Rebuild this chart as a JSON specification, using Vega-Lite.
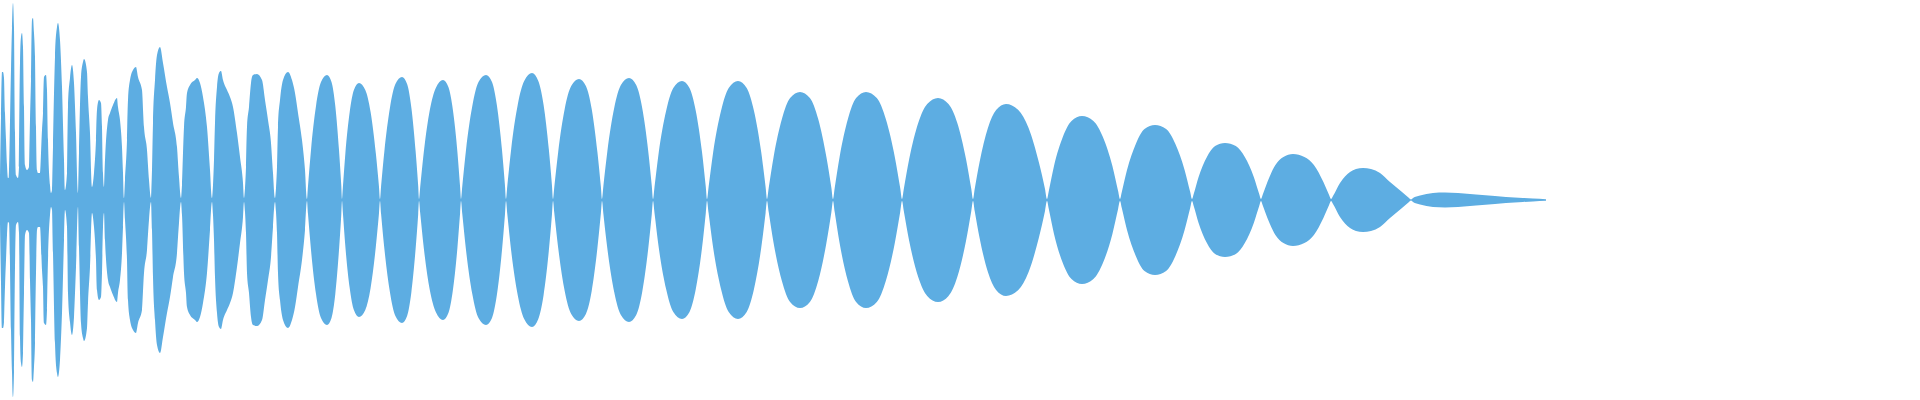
{
  "$schema": "https://vega.github.io/schema/vega-lite/v6.json",
  "width": 1920,
  "height": 400,
  "autosize": {"type": "fit", "contains": "padding"},
  "padding": 0,
  "background": "white",
  "config": {"view": {"stroke": null}},
  "data": {"values": [
    {"t":0,"amp":23},{"t":1,"amp":83},{"t":2,"amp":128},{"t":3,"amp":128},{"t":4,"amp":122},{"t":5,"amp":87},{"t":6,"amp":60},{"t":7,"amp":35},{"t":8,"amp":22},
    {"t":9,"amp":23},{"t":11,"amp":130},{"t":12,"amp":172},{"t":13,"amp":197},{"t":14,"amp":172},{"t":15,"amp":67},{"t":16,"amp":25},{"t":18,"amp":22},
    {"t":19,"amp":33},{"t":20,"amp":137},{"t":21,"amp":163},{"t":22,"amp":167},{"t":23,"amp":153},{"t":24,"amp":93},{"t":25,"amp":35},{"t":27,"amp":30},
    {"t":29,"amp":33},{"t":30,"amp":80},{"t":31,"amp":120},{"t":32,"amp":180},{"t":33,"amp":182},{"t":34,"amp":167},{"t":35,"amp":143},{"t":36,"amp":73},{"t":37,"amp":30},{"t":38,"amp":27},
    {"t":40,"amp":27},{"t":42,"amp":70},{"t":43,"amp":87},{"t":44,"amp":123},{"t":46,"amp":125},{"t":47,"amp":110},{"t":48,"amp":60},{"t":50,"amp":15},{"t":51,"amp":7},
    {"t":52,"amp":10},{"t":53,"amp":53},{"t":55,"amp":143},{"t":57,"amp":173},{"t":58,"amp":177},{"t":60,"amp":160},{"t":62,"amp":113},{"t":64,"amp":40},{"t":65,"amp":10},
    {"t":67,"amp":27},{"t":68,"amp":93},{"t":70,"amp":122},{"t":72,"amp":135},{"t":74,"amp":117},{"t":76,"amp":67},{"t":78,"amp":7},
    {"t":79,"amp":47},{"t":81,"amp":123},{"t":83,"amp":138},{"t":84,"amp":141},{"t":87,"amp":128},{"t":88,"amp":103},{"t":90,"amp":67},{"t":92,"amp":13},
    {"t":94,"amp":27},{"t":96,"amp":60},{"t":97,"amp":90},{"t":99,"amp":100},{"t":101,"amp":97},{"t":102,"amp":73},{"t":103,"amp":27},{"t":104,"amp":13},
    {"t":105,"amp":40},{"t":108,"amp":80},{"t":110,"amp":87},{"t":113,"amp":95},{"t":117,"amp":102},{"t":118,"amp":93},{"t":120,"amp":80},{"t":122,"amp":53},{"t":123,"amp":27},{"t":124,"amp":2},
    {"t":125,"amp":20},{"t":127,"amp":60},{"t":128,"amp":100},{"t":130,"amp":120},{"t":133,"amp":130},{"t":136,"amp":133},{"t":138,"amp":123},{"t":142,"amp":110},{"t":144,"amp":73},{"t":147,"amp":50},{"t":149,"amp":20},{"t":151,"amp":2},
    {"t":152,"amp":30},{"t":153,"amp":77},{"t":155,"amp":120},{"t":157,"amp":145},{"t":160,"amp":153},{"t":163,"amp":137},{"t":167,"amp":113},{"t":170,"amp":97},{"t":173,"amp":77},{"t":177,"amp":53},{"t":179,"amp":23},{"t":181,"amp":2},
    {"t":182,"amp":15},{"t":184,"amp":73},{"t":186,"amp":93},{"t":187,"amp":107},{"t":190,"amp":115},{"t":195,"amp":120},{"t":197,"amp":122},{"t":200,"amp":117},{"t":203,"amp":103},{"t":207,"amp":73},{"t":210,"amp":30},{"t":212,"amp":2},
    {"t":213,"amp":15},{"t":214,"amp":40},{"t":215,"amp":77},{"t":217,"amp":113},{"t":219,"amp":127},{"t":221,"amp":129},{"t":223,"amp":120},{"t":227,"amp":110},{"t":230,"amp":103},{"t":233,"amp":93},{"t":237,"amp":67},{"t":240,"amp":43},{"t":243,"amp":17},{"t":244,"amp":2},
    {"t":245,"amp":12},{"t":246,"amp":33},{"t":247,"amp":73},{"t":249,"amp":93},{"t":251,"amp":117},{"t":253,"amp":125},{"t":257,"amp":126},{"t":262,"amp":120},{"t":265,"amp":100},{"t":268,"amp":80},{"t":271,"amp":57},{"t":273,"amp":27},{"t":275,"amp":2},
    {"t":276,"amp":12},{"t":277,"amp":33},{"t":278,"amp":73},{"t":280,"amp":100},{"t":283,"amp":120},{"t":288,"amp":128},{"t":292,"amp":120},{"t":295,"amp":107},{"t":298,"amp":87},{"t":302,"amp":60},{"t":305,"amp":30},{"t":307,"amp":1},
    {"t":308,"amp":14},{"t":311,"amp":50},{"t":316,"amp":94},{"t":321,"amp":118},{"t":327,"amp":125},{"t":331.5,"amp":118},{"t":335.3,"amp":94},{"t":339,"amp":50},{"t":341.3,"amp":14},{"t":342,"amp":1},
    {"t":342.9,"amp":13},{"t":345.4,"amp":47},{"t":349.7,"amp":88},{"t":353.9,"amp":110},{"t":359,"amp":117},{"t":365.3,"amp":110},{"t":370.6,"amp":88},{"t":375.8,"amp":47},{"t":379,"amp":13},{"t":380,"amp":1},
    {"t":381.1,"amp":14},{"t":384.4,"amp":49},{"t":389.9,"amp":92},{"t":395.4,"amp":116},{"t":402,"amp":123},{"t":407.1,"amp":116},{"t":411.4,"amp":92},{"t":415.6,"amp":49},{"t":418.2,"amp":14},{"t":419,"amp":1},
    {"t":420.2,"amp":13},{"t":423.8,"amp":48},{"t":429.8,"amp":90},{"t":435.8,"amp":112},{"t":443,"amp":120},{"t":448.4,"amp":113},{"t":452.9,"amp":90},{"t":457.4,"amp":48},{"t":460.1,"amp":13},{"t":461,"amp":1},
    {"t":462.3,"amp":14},{"t":466,"amp":50},{"t":472.3,"amp":94},{"t":478.5,"amp":118},{"t":486,"amp":125},{"t":492,"amp":118},{"t":497,"amp":94},{"t":502,"amp":50},{"t":505,"amp":14},{"t":506,"amp":1},
    {"t":507.3,"amp":14},{"t":511.2,"amp":51},{"t":517.7,"amp":95},{"t":524.2,"amp":119},{"t":532,"amp":127},{"t":538.3,"amp":119},{"t":543.6,"amp":95},{"t":548.8,"amp":51},{"t":552,"amp":14},{"t":553,"amp":1},
    {"t":554.3,"amp":13},{"t":558.2,"amp":48},{"t":564.7,"amp":91},{"t":571.2,"amp":114},{"t":579,"amp":121},{"t":585.9,"amp":114},{"t":591.7,"amp":91},{"t":597.4,"amp":48},{"t":600.9,"amp":13},{"t":602,"amp":1},
    {"t":603.4,"amp":14},{"t":607.4,"amp":49},{"t":614.2,"amp":92},{"t":620.9,"amp":115},{"t":629,"amp":122},{"t":636.2,"amp":115},{"t":642.2,"amp":92},{"t":648.2,"amp":49},{"t":651.8,"amp":14},{"t":653,"amp":1},
    {"t":654.5,"amp":13},{"t":658.8,"amp":48},{"t":666.1,"amp":89},{"t":673.3,"amp":112},{"t":682,"amp":119},{"t":689.5,"amp":112},{"t":695.8,"amp":89},{"t":702,"amp":48},{"t":705.8,"amp":13},{"t":707,"amp":1},
    {"t":708.6,"amp":13},{"t":713.2,"amp":48},{"t":721,"amp":89},{"t":728.7,"amp":112},{"t":738,"amp":119},{"t":746.7,"amp":112},{"t":754,"amp":89},{"t":761.2,"amp":48},{"t":765.6,"amp":13},{"t":767,"amp":1},
    {"t":768.7,"amp":12},{"t":773.6,"amp":43},{"t":781.9,"amp":81},{"t":790.1,"amp":102},{"t":800,"amp":108},{"t":809.9,"amp":102},{"t":818.2,"amp":81},{"t":826.4,"amp":43},{"t":831.4,"amp":12},{"t":833,"amp":1},
    {"t":834.7,"amp":12},{"t":839.6,"amp":43},{"t":847.9,"amp":81},{"t":856.1,"amp":102},{"t":866,"amp":108},{"t":876.8,"amp":102},{"t":885.8,"amp":81},{"t":894.8,"amp":43},{"t":900.2,"amp":12},{"t":902,"amp":1},
    {"t":903.8,"amp":11},{"t":909.2,"amp":41},{"t":918.2,"amp":77},{"t":927.2,"amp":96},{"t":938,"amp":102},{"t":948.5,"amp":96},{"t":957.3,"amp":77},{"t":966,"amp":41},{"t":971.3,"amp":11},{"t":973,"amp":1},
    {"t":974.7,"amp":11},{"t":979.6,"amp":38},{"t":987.9,"amp":72},{"t":996.1,"amp":90},{"t":1006,"amp":96},{"t":1018.3,"amp":90},{"t":1028.6,"amp":72},{"t":1038.8,"amp":38},{"t":1045,"amp":11},{"t":1047,"amp":1},
    {"t":1048.8,"amp":9},{"t":1054,"amp":34},{"t":1062.8,"amp":63},{"t":1071.5,"amp":79},{"t":1082,"amp":84},{"t":1093.4,"amp":79},{"t":1102.9,"amp":63},{"t":1112.4,"amp":34},{"t":1118.1,"amp":9},{"t":1120,"amp":1},
    {"t":1121.8,"amp":8},{"t":1127,"amp":30},{"t":1135.8,"amp":56},{"t":1144.5,"amp":71},{"t":1155,"amp":75},{"t":1166.1,"amp":71},{"t":1175.4,"amp":56},{"t":1184.6,"amp":30},{"t":1190.2,"amp":8},{"t":1192,"amp":1},
    {"t":1193.7,"amp":6},{"t":1198.6,"amp":23},{"t":1206.9,"amp":43},{"t":1215.1,"amp":54},{"t":1225,"amp":57},{"t":1235.8,"amp":54},{"t":1244.8,"amp":43},{"t":1253.8,"amp":23},{"t":1259.2,"amp":6},{"t":1261,"amp":1},
    {"t":1262.6,"amp":5},{"t":1267.4,"amp":18},{"t":1275.4,"amp":35},{"t":1283.4,"amp":43},{"t":1293,"amp":46},{"t":1304.4,"amp":43},{"t":1313.9,"amp":35},{"t":1323.4,"amp":18},{"t":1329.1,"amp":5},{"t":1331,"amp":1},
    {"t":1333,"amp":4},{"t":1340,"amp":17},{"t":1350,"amp":28},{"t":1356,"amp":31},{"t":1363,"amp":32},{"t":1371,"amp":31},{"t":1380,"amp":27},{"t":1390,"amp":18},{"t":1402,"amp":8},{"t":1409,"amp":2},{"t":1411,"amp":0.5},
    {"t":1413,"amp":2},{"t":1420,"amp":4.5},{"t":1433,"amp":7},{"t":1445,"amp":7.5},{"t":1458,"amp":7},{"t":1476,"amp":5.5},{"t":1495,"amp":4},{"t":1506,"amp":3},{"t":1523,"amp":2},{"t":1533,"amp":1.5},{"t":1546,"amp":0.8}
  ]},
  "encoding": {
    "x": {"field": "t", "type": "quantitative", "scale": {"domain": [0, 1920], "nice": false, "zero": false}, "axis": null}
  },
  "layer": [
    {
      "mark": {"type": "area", "color": "#5DADE2", "interpolate": "monotone"},
      "encoding": {"y": {"field": "amp", "type": "quantitative", "scale": {"domain": [-200, 200], "nice": false}, "axis": null}}
    },
    {
      "mark": {"type": "area", "color": "#5DADE2", "interpolate": "monotone"},
      "encoding": {"y": {"field": "amp", "type": "quantitative", "scale": {"domain": [-200, 200], "nice": false, "reverse": true}, "axis": null}}
    }
  ],
  "resolve": {"scale": {"y": "independent"}}
}
